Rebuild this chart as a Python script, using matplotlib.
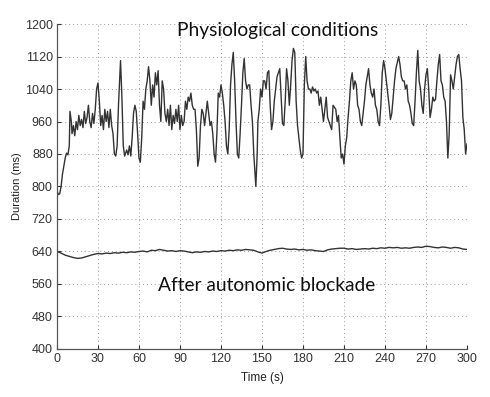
import matplotlib
matplotlib.use("Agg")
import matplotlib.pyplot as plt

# Physiological conditions: time (s) and beat duration (ms)
phys_t = [0, 1, 2, 3, 4, 5, 6, 7, 8, 9, 9.5, 10.5, 11, 12, 13, 14, 15, 16, 17, 18, 19, 20,
          21, 22, 23, 24, 25, 26, 27, 28, 29, 30, 31, 32, 33, 34, 35, 36, 37, 38, 39, 40,
          41, 42, 43, 44, 45, 46.5, 47.5, 48.5, 49.5, 51, 52, 53, 54, 55, 56, 57, 58, 59, 60,
          61, 62, 63, 64, 65, 66, 67, 68, 69, 70, 71, 72, 73, 74, 75, 76, 77, 78, 79, 80,
          81, 82, 83, 84, 85, 86, 87, 88, 89, 90, 91, 92, 93, 94, 95, 96, 97, 98, 99, 100,
          101, 102, 103, 104, 105, 106, 107, 108, 109, 110, 111, 112, 113, 114, 115, 116, 117, 118, 119, 120,
          121, 122, 123, 124, 125, 126, 127, 128, 129, 130, 131, 132, 133, 134, 135, 136, 137, 138, 139, 140,
          141, 142, 143, 144, 145.5, 146.5, 147, 148, 149, 150, 151, 152, 153, 154, 155, 156, 157, 158, 159, 160,
          161, 162, 163, 164, 165, 166, 167, 168, 169, 170, 171, 172, 173, 174, 175, 176, 177, 178, 179, 180,
          181, 182, 183, 184, 185, 186, 187, 188, 189, 190, 191, 192, 193, 194, 195, 196, 197, 198, 199, 200,
          201, 202, 203, 204, 205, 206, 207, 208, 209, 210, 211, 212, 213, 214, 215, 216, 217, 218, 219, 220,
          221, 222, 223, 224, 225, 226, 227, 228, 229, 230, 231, 232, 233, 234, 235, 236, 237, 238, 239, 240,
          241, 242, 243, 244, 245, 246, 247, 248, 249, 250, 251, 252, 253, 254, 255, 256, 257, 258, 259, 260,
          261, 262, 263, 264, 265, 266, 267, 268, 269, 270, 271, 272, 273, 274, 275, 276, 277, 278, 279, 280,
          281, 282, 283, 284, 285, 286, 287, 288, 289, 290, 291, 292, 293, 294, 295, 296, 297, 298, 299, 300]
phys_v = [790, 780, 782, 800, 830, 850, 870, 882, 878, 900, 985, 960, 930, 950, 925, 960, 940, 975, 950, 965, 945, 985,
          955, 970, 1000, 960, 945, 980, 955, 990, 1040, 1055, 1010, 950, 975, 940, 990, 960, 985, 945, 990, 950,
          930, 880, 875, 900, 1000, 1110, 1020, 900, 875, 890, 878, 900, 875, 920, 980, 1000, 985, 930, 870,
          860, 920, 1010, 990, 1040, 1060, 1095, 1060, 1000, 1050, 1020, 1080, 1050, 1085, 1000, 960, 1060, 1040, 980, 960,
          990, 950, 1000, 940, 975, 955, 990, 960, 1000, 940, 975, 950, 960, 1010, 990, 1020, 1010, 1030, 1000, 990,
          990, 940, 850, 870, 950, 990, 980, 950, 980, 1010, 980, 950, 960, 930, 880, 860, 930, 1030, 1020, 1050,
          1030, 1000, 960, 900, 880, 940, 1050, 1100, 1130, 1060, 960, 880, 870, 930, 1000, 1080, 1115, 1060, 1040, 1050,
          1050, 1000, 960, 880, 800, 880, 960, 990, 1040, 1020, 1060, 1060, 1040, 1080, 1085, 1000, 940, 960, 1010, 1040,
          1070, 1080, 1090, 1020, 955, 950, 1010, 1090, 1060, 1000, 1050, 1110, 1140, 1130, 1010, 950, 920, 890, 870, 880,
          1050, 1120, 1060, 1040, 1040, 1030, 1045, 1035, 1040, 1030, 1035, 1000, 1020, 990, 960, 990, 1020, 970, 960, 950,
          940, 1000, 995, 990, 960, 975, 920, 870, 880, 855, 900, 920, 970, 1010, 1060, 1080, 1040, 1060, 1050, 1000,
          990, 960, 950, 980, 1010, 1050, 1070, 1090, 1050, 1030, 1020, 1040, 1000, 990, 960, 950, 1000, 1080, 1110, 1090,
          1060, 1030, 1000, 965, 980, 1020, 1060, 1090, 1105, 1120, 1100, 1070, 1060, 1060, 1040, 1050, 1010, 1000, 980, 955,
          950, 1010, 1080, 1135, 1060, 1040, 1000, 980, 1040, 1075, 1090, 1040, 970, 990, 1020, 1010, 1015, 1060, 1100, 1125,
          1060, 1050, 1020, 1010, 960, 870, 930, 1075, 1060, 1040, 1070, 1100, 1120, 1125, 1090, 1060, 970, 940, 880, 905]

# After autonomic blockade
block_t = [0, 3, 6, 9, 12, 15, 18, 21, 24, 27, 30, 33, 36, 39, 42, 45, 48, 51, 54, 57, 60,
           63, 66, 69, 72, 75, 78, 81, 84, 87, 90, 93, 96, 99, 102, 105, 108, 111, 114, 117, 120,
           123, 126, 129, 132, 135, 138, 141, 144, 147, 150, 153, 156, 159, 162, 165, 168, 171, 174, 177, 180,
           183, 186, 189, 192, 195, 198, 201, 204, 207, 210, 213, 216, 219, 222, 225, 228, 231, 234, 237, 240,
           243, 246, 249, 252, 255, 258, 261, 264, 267, 270, 273, 276, 279, 282, 285, 288, 291, 294, 297, 300]
block_v = [640, 636, 631, 628, 625, 623, 624, 627, 630, 633, 635, 634, 636, 635, 637, 636, 638, 637, 639, 638, 640,
           641, 639, 643, 642, 645, 643, 641, 642, 640, 642, 641, 639, 637, 639, 638, 640, 639, 641, 640, 642,
           641, 643, 642, 644, 643, 645, 644, 643, 639, 636, 640, 643, 645, 647, 648, 646, 645, 646, 644, 645,
           643, 644, 642, 641, 640, 644, 646, 647, 648, 648, 646, 647, 645, 646, 647, 646, 648, 647, 649, 648,
           650, 649, 650, 648, 649, 648, 650, 651, 650, 653, 652, 650, 649, 651, 650, 648, 650, 649, 646, 645]

x_ticks = list(range(0, 301, 30))
y_ticks = list(range(400, 1201, 80))

fig = plt.figure(figsize=(4.9, 3.97), dpi=100)
ax = fig.add_axes([0.1163, 0.121, 0.8367, 0.8185])

ax.plot(phys_t, phys_v, color="#333333", lw=1.0)
ax.plot(block_t, block_v, color="#333333", lw=1.0)

ax.set_xlim(0, 300)
ax.set_ylim(400, 1200)
ax.set_xticks(x_ticks)
ax.set_yticks(y_ticks)
ax.grid(True, linestyle=(0, (1, 3)), color="#9a9a9a", linewidth=0.7)
for s in ("top", "right"):
    ax.spines[s].set_visible(False)
for s in ("left", "bottom"):
    ax.spines[s].set_color("#555555")
    ax.spines[s].set_linewidth(0.9)
ax.tick_params(direction="in", length=3, colors="#333333", labelsize=9, pad=3)
for lab in ax.get_xticklabels() + ax.get_yticklabels():
    lab.set_family("Liberation Sans")
ax.set_xlabel("Time (s)", fontsize=8.5, family="Liberation Sans", color="#222222", labelpad=5)
ax.set_ylabel("Duration (ms)", fontsize=8, family="Liberation Sans", color="#222222", labelpad=2)

ax.text(161.7, 1185, "Physiological conditions", ha="center", va="center",
        fontsize=13.8, family="Lato", color="#111111")
ax.text(153.6, 557, "After autonomic blockade", ha="center", va="center",
        fontsize=13.8, family="Lato", color="#111111")

fig.savefig("out.png", dpi=100)
